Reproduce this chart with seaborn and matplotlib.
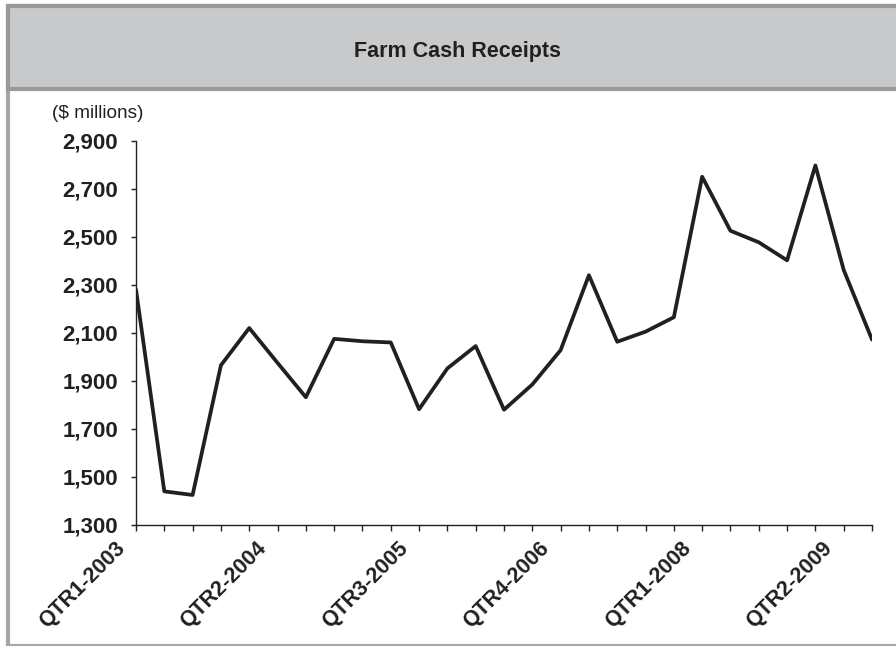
import matplotlib
matplotlib.use("Agg")
import matplotlib.pyplot as plt
from matplotlib.patches import Rectangle
import seaborn as sns
import pandas as pd

quarters = ["QTR1-2003", "QTR2-2003", "QTR3-2003", "QTR4-2003",
            "QTR1-2004", "QTR2-2004", "QTR3-2004", "QTR4-2004",
            "QTR1-2005", "QTR2-2005", "QTR3-2005", "QTR4-2005",
            "QTR1-2006", "QTR2-2006", "QTR3-2006", "QTR4-2006",
            "QTR1-2007", "QTR2-2007", "QTR3-2007", "QTR4-2007",
            "QTR1-2008", "QTR2-2008", "QTR3-2008", "QTR4-2008",
            "QTR1-2009", "QTR2-2009", "QTR3-2009"]
receipts = [2280, 1440, 1425, 1965, 2120, 1975, 1832, 2075, 2065, 2060,
            1782, 1952, 2045, 1780, 1885, 2028, 2340, 2063, 2105, 2165,
            2750, 2525, 2477, 2402, 2797, 2362, 2072]
yticks = [1300, 1500, 1700, 1900, 2100, 2300, 2500, 2700, 2900]

df = pd.DataFrame({"pos": range(len(quarters)), "quarter": quarters, "receipts": receipts})

sns.set_theme(style="ticks")
plt.rcParams["font.family"] = ["Liberation Sans", "DejaVu Sans"]

W, H = 896, 646
fig = plt.figure(figsize=(W / 100, H / 100), dpi=100)
fig.patch.set_facecolor("white")

# outer frame + grey title band
fig.patches.append(Rectangle((8 / W, 0.5 / H), 1.2, (H - 6) / H, transform=fig.transFigure,
                             facecolor="white", edgecolor="#a6a6a6", lw=3, zorder=0))
fig.patches.append(Rectangle((8 / W, (H - 89) / H), 1.2, 83 / H, transform=fig.transFigure,
                             facecolor="#c8c9cb", edgecolor="#999999", lw=3, zorder=1))
fig.text(457 / W, 1 - 52 / H, "Farm Cash Receipts", ha="center", va="center",
         fontsize=15.5, fontweight="bold", color="#231f20")
fig.text(52 / W, 1 - 113 / H, "($ millions)", ha="left", va="center",
         fontsize=13.7, color="#231f20")

ax = fig.add_axes([136 / W, (H - 525) / H, 736 / W, 384.3 / H])
ax.set_zorder(5)
sns.lineplot(data=df, x="pos", y="receipts", ax=ax, color="#231f20", lw=2.7)

ax.set_xlim(0, len(quarters) - 1)
ax.set_ylim(1300, 2900)
ax.set_yticks(yticks)
ax.set_yticklabels([f"{v:,}" for v in yticks], fontsize=16, fontweight="bold", color="#231f20")
ax.set_xticks(df["pos"])
ax.set_xticklabels([])
# every fifth quarter gets a slanted label
for i, q in enumerate(quarters):
    if i % 5 == 0:
        ax.annotate(q, xy=(i, 0), xycoords=ax.get_xaxis_transform(),
                    xytext=(-7, -13), textcoords="offset pixels",
                    rotation=45, ha="right", va="top", annotation_clip=False,
                    fontsize=15.5, fontweight="bold", color="#231f20")
ax.tick_params(axis="x", length=4.5, width=1, color="#231f20")
ax.tick_params(axis="y", length=3.6, width=1, color="#231f20", pad=9.4)
ax.set_xlabel("")
ax.set_ylabel("")
sns.despine(ax=ax)
for s in ["left", "bottom"]:
    ax.spines[s].set_color("#231f20")
    ax.spines[s].set_linewidth(1)
ax.patch.set_alpha(0)

fig.savefig("out.png", dpi=100)
